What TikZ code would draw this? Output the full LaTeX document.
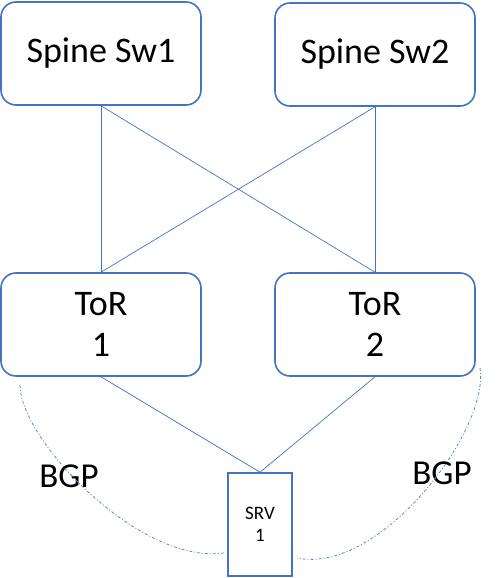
\documentclass[tikz,border=0pt]{standalone}
\usepackage{fontspec}
\setmainfont{Carlito}
\usepackage{xcolor}
\usepackage{tikz}
\definecolor{swblue}{HTML}{4472C4}

\begin{document}
\begin{tikzpicture}[x=1pt,y=-1pt]

                \edef\sizebox{103pt}
                \tikzstyle{switch}=[draw=swblue,line width=1.6pt,rounded corners=15pt,minimum width=200pt,minimum height=\sizebox,align=center,font=\fontsize{36}{41}\selectfont]
                \tikzstyle{server}=[draw=swblue,line width=1.6pt,minimum width=64pt,minimum height=\sizebox,align=center,font=\fontsize{19}{22}\selectfont]
                \tikzstyle{link}=[draw=swblue,line width=0.7pt]
                \tikzstyle{bgp}=[draw=swblue!85,line width=0.8pt,dash pattern=on 3pt off 2pt on 1pt off 2pt]

                \useasboundingbox (0,0) rectangle (498,578);

                \node [switch] (spine1) at (101,53.5) {Spine Sw1};
                \node [switch] (spine2) at (375,54.5) {Spine Sw2};
                \node [switch] (tor1) at (101,324.5) {ToR\\1};
                \node [switch] (tor2) at (375,324.5) {ToR\\2};
                \node [server] (srv) at (260,524.5) {SRV\\1};

                \node [font=\fontsize{35}{40}\selectfont] (bgp1) at (69,476) {BGP};
                \node [font=\fontsize{35}{40}\selectfont] (bgp2) at (442,473) {BGP};

                % ends of the BGP sessions
                \coordinate (bgp1a) at (20,385);
                \coordinate (bgp1b) at (224,553);
                \coordinate (bgp2a) at (480,368);
                \coordinate (bgp2b) at (297,558);

                \draw[link] (spine1.south) -- (tor1.north);
                \draw[link] (spine1.south) -- (tor2.north);
                \draw[link] (spine2.south) -- (tor1.north);
                \draw[link] (spine2.south) -- (tor2.north);
                \draw[link] (tor1.south) -- (srv.north);
                \draw[link] (tor2.south) -- (srv.north);

                \draw[bgp] (bgp1a) .. controls (20,440) and (140,565) .. (bgp1b);
                \draw[bgp] (bgp2a) .. controls (490,430) and (380,575) .. (bgp2b);

            \end{tikzpicture}
\end{document}
